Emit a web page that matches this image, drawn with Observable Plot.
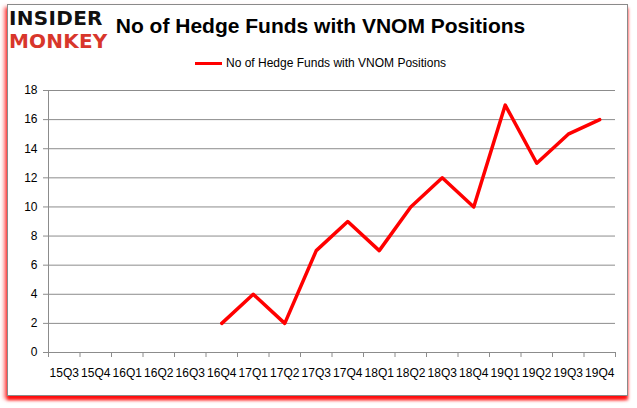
<!DOCTYPE html>
<html>
<head>
<meta charset="utf-8">
<script src="https://cdn.jsdelivr.net/npm/d3@7"></script>
<script src="https://cdn.jsdelivr.net/npm/@observablehq/plot@0.6"></script>
<style>
  html, body { margin: 0; padding: 0; background: #fff; }
  #wrap { position: relative; width: 637px; height: 408px; overflow: hidden; font-family: "Liberation Sans", Arial, sans-serif; }
  #frame { position: absolute; left: 7px; top: 4px; width: 619px; height: 390px; border: 1px solid #8a8a8a; background: #fff;
           box-shadow: -3px 3px 4px rgba(255,0,0,0.55), 0 4px 3px rgba(255,0,0,0.9); }
  #chart { position: absolute; left: 0; top: 0; }
  #title { position: absolute; left: 0; width: 637px; top: 14px; text-align: center; font-weight: bold; font-size: 21px; color: #000; padding-left: 2px; }
  #legend { position: absolute; left: 195px; top: 56px; font-size: 12px; color: #000; display: flex; align-items: center; }
  #legend .sw { width: 27px; height: 3px; background: #ff0000; margin-right: 4px; }
  #logo { position: absolute; left: 9px; top: 7px; font-family: "DejaVu Sans", sans-serif; font-weight: 900; line-height: 23px; }
  #logo .a { font-size: 20px; color: #111; letter-spacing: 0.3px; }
  #logo .b { font-size: 20px; color: #d8362b; letter-spacing: 0.2px; }
</style>
</head>
<body>
<div id="wrap">
  <div id="frame"></div>
  <div id="chart"></div>
  <div id="logo"><div class="a">INSIDER</div><div class="b">MONKEY</div></div>
  <div id="title">No of Hedge Funds with VNOM Positions</div>
  <div id="legend"><div class="sw"></div><span>No of Hedge Funds with VNOM Positions</span></div>
</div>
<script>
const quarters = ["15Q3","15Q4","16Q1","16Q2","16Q3","16Q4","17Q1","17Q2","17Q3","17Q4","18Q1","18Q2","18Q3","18Q4","19Q1","19Q2","19Q3","19Q4"];
const funds = [null,null,null,null,null,2,4,2,7,9,7,10,12,10,17,13,15,16];
const yTicks = [0,2,4,6,8,10,12,14,16,18];

const data = quarters.map((q, i) => ({q, i, v: funds[i]})).filter(d => d.v != null);
const edges = d3.range(0, quarters.length + 1);
const centers = quarters.map((q, i) => i + 0.5);

const chart = Plot.plot({
  width: 637,
  height: 408,
  marginLeft: 48,
  marginRight: 22,
  marginTop: 90,
  marginBottom: 56,
  style: { background: "transparent", fontFamily: "Liberation Sans, Arial, sans-serif", fontSize: "12px", color: "#000" },
  x: { domain: [0, quarters.length], axis: null },
  y: { domain: [0, 18], axis: null },
  marks: [
    Plot.ruleY(yTicks.filter(t => t > 0), { stroke: "#8c8c8c", strokeWidth: 1 }),
    Plot.ruleX([0], { stroke: "#8c8c8c" }),
    Plot.ruleY([0], { stroke: "#8c8c8c" }),
    Plot.axisY({ ticks: yTicks, tickSize: 5, tickPadding: 6, stroke: "#8c8c8c", fill: "#000", fontSize: 12, label: null }),
    Plot.axisX({ ticks: edges, tickSize: 5, tickFormat: () => "", stroke: "#8c8c8c", label: null }),
    Plot.text(centers, { x: d => d, y: () => 0, dy: 16, text: (d, i) => quarters[i], fill: "#000", fontSize: 12, textAnchor: "middle", lineAnchor: "top" }),
    Plot.line(data, { x: d => d.i + 0.5, y: "v", stroke: "#ff0000", strokeWidth: 3.5 })
  ]
});
document.getElementById("chart").appendChild(chart);
</script>
</body>
</html>
